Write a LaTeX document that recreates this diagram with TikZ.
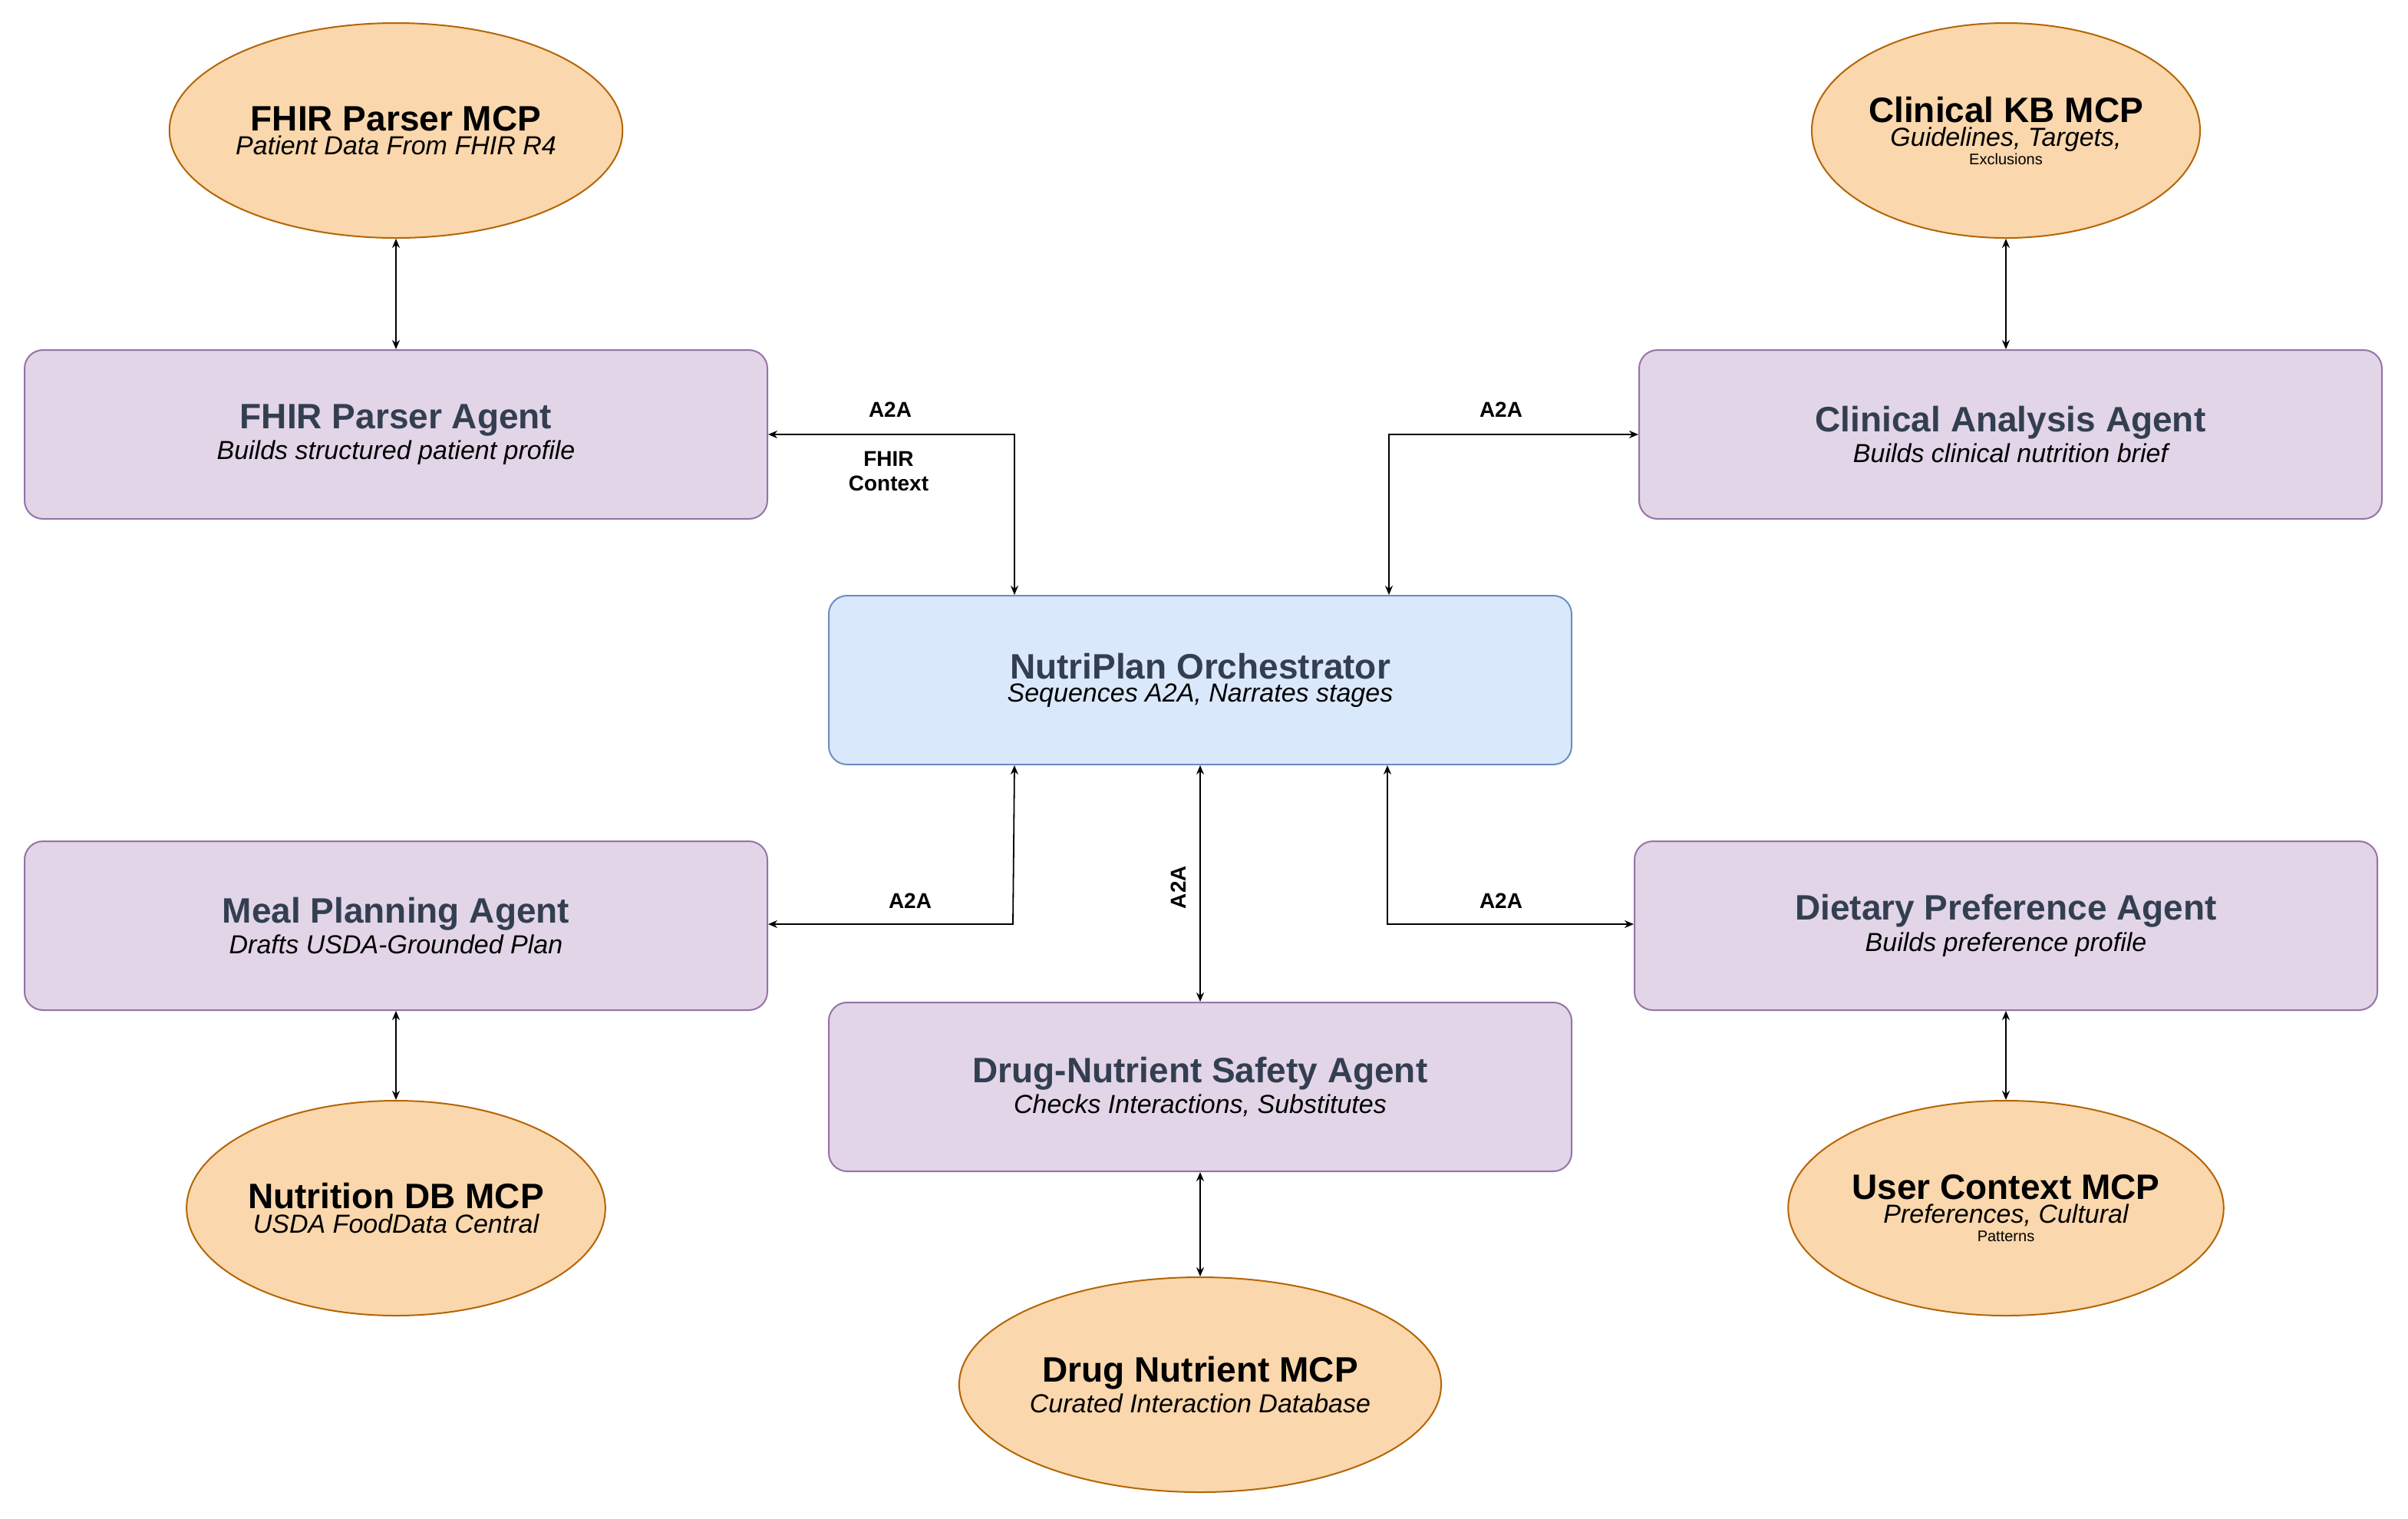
\documentclass[tikz,border=0pt]{standalone}
\usepackage{fontspec}
\setmainfont{Liberation Sans}
\usetikzlibrary{arrows.meta,shapes.geometric}
\definecolor{mcpfill}{HTML}{FAD7AC}
\definecolor{mcpline}{HTML}{B46504}
\definecolor{agfill}{HTML}{E1D5E7}
\definecolor{agline}{HTML}{9673A6}
\definecolor{orfill}{HTML}{DAE8FC}
\definecolor{orline}{HTML}{6C8EBF}
\definecolor{ttl}{HTML}{333F50}
\newcommand\agtext[2]{\color{ttl}\fontsize{23}{27}\selectfont\bfseries #1\\[2pt]\fontsize{17}{20}\selectfont\mdseries\itshape #2}
\newcommand\mcptext[2]{\fontsize{23}{27}\selectfont\bfseries #1\\[2pt]\fontsize{17}{22}\selectfont\mdseries\itshape #2}
\begin{document}
\begin{tikzpicture}[x=1pt,y=-1pt,
  agent/.style={draw=agline,fill=agfill,rounded corners=12pt,minimum width=484pt,minimum height=110pt,align=center,line width=1pt},
  mcp/.style={draw=mcpline,fill=mcpfill,ellipse,minimum width=240pt,minimum height=140pt,inner sep=0pt,align=center,line width=1pt},
  link/.style={{Stealth[length=6pt,width=5pt]}-{Stealth[length=6pt,width=5pt]},line width=0.9pt},
  lbl/.style={font=\fontsize{14}{16}\selectfont\bfseries,align=center}]

  \useasboundingbox (0,0) rectangle (1569,989);

  %mcp servers
  \node[mcp] (fhirmcp) at (258,85) {\mcptext{FHIR Parser MCP}{Patient Data From FHIR R4}};
  \node[mcp] (kbmcp) at (1307,85) {\mcptext{Clinical KB MCP}{Guidelines, Targets,\\Exclusions}};
  \node[mcp] (nutmcp) at (258,787) {\mcptext{Nutrition DB MCP}{USDA FoodData Central}};
  \node[mcp] (drugmcp) at (782,902) {\mcptext{Drug Nutrient MCP}{Curated Interaction Database}};
  \node[mcp] (usermcp) at (1307,787) {\mcptext{User Context MCP}{Preferences, Cultural\\Patterns}};

  %agents
  \node[agent] (fhir) at (258,283) {\agtext{FHIR Parser Agent}{Builds structured patient profile}};
  \node[agent] (clin) at (1310,283) {\agtext{Clinical Analysis Agent}{Builds clinical nutrition brief}};
  \node[agent,draw=orline,fill=orfill] (orch) at (782,443) {\agtext{NutriPlan Orchestrator}{Sequences A2A, Narrates stages}};
  \node[agent] (meal) at (258,603) {\agtext{Meal Planning Agent}{Drafts USDA-Grounded Plan}};
  \node[agent] (diet) at (1307,603) {\agtext{Dietary Preference Agent}{Builds preference profile}};
  \node[agent] (safe) at (782,708) {\agtext{Drug-Nutrient Safety Agent}{Checks Interactions, Substitutes}};

  %a2a links
  \draw[link] (fhir.east) -- (661,283) -- (orch.north -| 661,0);
  \draw[link] (orch.north -| 905,0) -- (905,283) -- (clin.west);
  \draw[link] (orch.south -| 661,0) -- (660,602) -- (meal.east |- 0,602);
  \draw[link] (orch.south -| 904,0) -- (904,602) -- (diet.west |- 0,602);
  \draw[link] (orch.south) -- (safe.north);

  \node[lbl] (l1) at (580,267) {A2A};
  \node[lbl] (l2) at (579,307) {FHIR\\Context};
  \node[lbl] (l3) at (978,267) {A2A};
  \node[lbl] (l4) at (593,587) {A2A};
  \node[lbl] (l5) at (978,587) {A2A};
  \node[lbl,rotate=90] (l6) at (768,578) {A2A};

  %mcp links
  \draw[link] (fhirmcp) -- (fhir);
  \draw[link] (kbmcp) -- (clin.north -| kbmcp);
  \draw[link] (meal) -- (nutmcp);
  \draw[link] (safe) -- (drugmcp);
  \draw[link] (diet) -- (usermcp);

\end{tikzpicture}
\end{document}
